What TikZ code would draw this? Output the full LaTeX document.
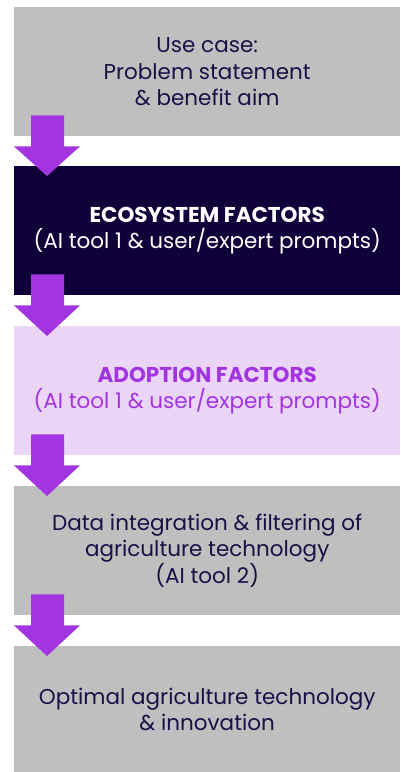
\documentclass[tikz,border=0pt]{standalone}
\usepackage{fontspec}
\setmainfont{Poppins}
\usetikzlibrary{calc}
\definecolor{boxgray}{HTML}{BFBFBF}
\definecolor{navy}{HTML}{10003A}
\definecolor{lilac}{HTML}{EBD5F7}
\definecolor{violet}{HTML}{A235E0}
\definecolor{inktext}{HTML}{1B1046}
\tikzset{
  stage/.style={anchor=north west, minimum width=386pt, inner sep=0pt, align=center,
    font=\fontsize{21.5}{26.5}\selectfont},
  graybox/.style={stage, fill=boxgray, text=inktext},
  darkbox/.style={stage, fill=navy, text=white},
  lightbox/.style={stage, fill=lilac, text=violet},
  flowarrow/.style={fill=violet}
}
\newcommand{\flowarrowbetween}[2]{%
  \fill[flowarrow] ($(#1.south west)+(17,-21)$) -- ($(#1.south west)+(50,-21)$)
    -- ($(#1.south west)+(50,10)$) -- ($(#1.south west)+(66,10)$)
    -- ($(#2.north west)+(33,10)$) -- ($(#1.south west)+(0,10)$)
    -- ($(#1.south west)+(17,10)$) -- cycle;}
\begin{document}
\begin{tikzpicture}[x=1pt,y=-1pt]
\useasboundingbox (0,0) rectangle (400,772);
\node[graybox, minimum height=129pt] (b1) at (14,7) {Use case:\\Problem statement\\\& benefit aim};
\node[darkbox, minimum height=129pt] (b2) at (14,166) {\textbf{ECOSYSTEM FACTORS}\\(AI tool 1 \& user/expert prompts)};
\node[lightbox, minimum height=129pt] (b3) at (14,326) {\textbf{ADOPTION FACTORS}\\(AI tool 1 \& user/expert prompts)};
\node[graybox, minimum height=129pt] (b4) at (14,486) {Data integration \& filtering of\\agriculture technology\\(AI tool 2)};
\node[graybox, minimum height=126pt] (b5) at (14,646) {Optimal agriculture technology\\\& innovation};
\flowarrowbetween{b1}{b2}
\flowarrowbetween{b2}{b3}
\flowarrowbetween{b3}{b4}
\flowarrowbetween{b4}{b5}
\end{tikzpicture}
\end{document}
